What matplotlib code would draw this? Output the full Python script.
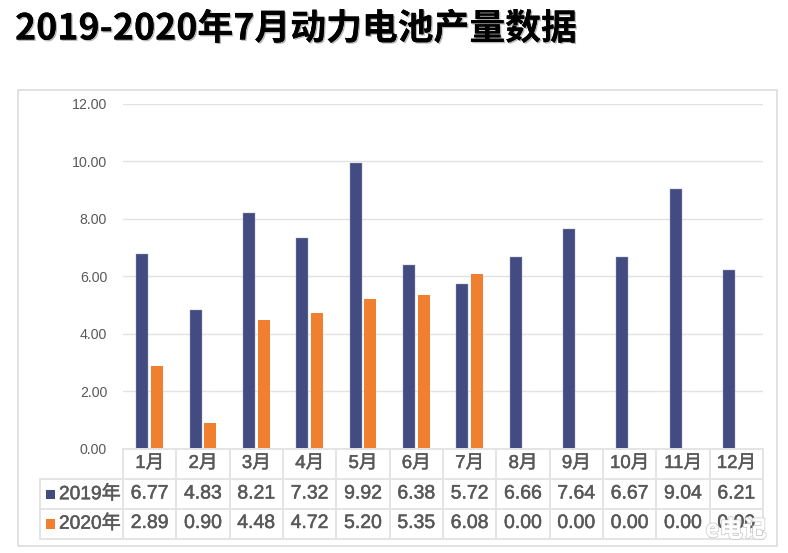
import matplotlib
matplotlib.use('Agg')
import matplotlib.pyplot as plt
import matplotlib.patheffects as pe
from matplotlib.patches import Rectangle
from matplotlib.lines import Line2D

months = ['1月','2月','3月','4月','5月','6月','7月','8月','9月','10月','11月','12月']
series_names = ['2019年','2020年']
values_2019 = [6.77,4.83,8.21,7.32,9.92,6.38,5.72,6.66,7.64,6.67,9.04,6.21]
values_2020 = [2.89,0.90,4.48,4.72,5.20,5.35,6.08,0.00,0.00,0.00,0.00,0.00]
y_ticks = [0,2,4,6,8,10,12]
title = '2019-2020年7月动力电池产量数据'
NAVY='#434C80'; ORANGE='#F07F30'; GRID='#E2E2E2'; TXT='#595959'; TBL='#E4E4E4'
FONT=['Liberation Sans','Noto Sans CJK SC']
W,H=788,553
fig=plt.figure(figsize=(W/100,H/100),dpi=100,facecolor='white')
L,R,T,B=123,763,103.5,449
ax=fig.add_axes([L/W,1-B/H,(R-L)/W,(B-T)/H])
ax.set_xlim(-0.5,11.5); ax.set_ylim(0,12)
ax.set_yticks(y_ticks)
ax.set_yticklabels([f'{v:.2f}' for v in y_ticks],fontsize=10.2,color=TXT,family=FONT)
ax.tick_params(axis='y',length=0,pad=11.5)
ax.set_xticks([])
ax.grid(axis='y',color=GRID,lw=1); ax.set_axisbelow(True)
for s in ax.spines.values(): s.set_visible(False)
x=list(range(12))
bw=0.225; off=0.14
ax.bar([i-off for i in x],values_2019,bw,color=NAVY,edgecolor='#9AA0C0',lw=0.3)
ax.bar([i+off for i in x],values_2020,bw,color=ORANGE,lw=0)

def fx(px): return px/W
def fy(py): return 1-py/H
def hl(x0,x1,y,c=TBL,lw=1.4):
    fig.add_artist(Line2D([fx(x0),fx(x1)],[fy(y),fy(y)],color=c,lw=lw,zorder=3))
def vl(x0,y0,y1,c=TBL,lw=1.4):
    fig.add_artist(Line2D([fx(x0),fx(x0)],[fy(y0),fy(y1)],color=c,lw=lw,zorder=3))
# outer frame
fig.add_artist(Rectangle((fx(17.5),fy(545.5)),(777-17.5)/W,(545.5-89.5)/H,fill=False,ec='#D9D9D9',lw=1.1,zorder=1))
# table
rows=[449,479,509,538.5]
step=(R-L)/12
hl(L,R,rows[0]); hl(40,R,rows[1]); hl(40,R,rows[2]); hl(40,R,rows[3])
for i in range(13): vl(L+i*step,rows[0],rows[3])
vl(40,rows[1],rows[3])
semi=[pe.withStroke(linewidth=0.35,foreground=TXT)]
kw=dict(ha='center',va='center',family=FONT,color=TXT,zorder=4,path_effects=semi)
for i,m in enumerate(months):
    cx=fx(L+(i+.5)*step)
    fig.text(cx,fy(463.5),m,fontsize=13.4,**kw)
    fig.text(cx,fy(494),f'{values_2019[i]:.2f}',fontsize=14,**kw)
    fig.text(cx,fy(523.5),f'{values_2020[i]:.2f}',fontsize=14,**kw)
for yc,name,col in [(494,series_names[0],NAVY),(523.5,series_names[1],ORANGE)]:
    fig.add_artist(Rectangle((fx(46),fy(yc+5)),9/W,9.5/H,fc=col,ec='none',zorder=4))
    fig.text(fx(59),fy(yc),name,fontsize=13.8,ha='left',va='center',family=FONT,color=TXT,zorder=4,path_effects=semi)
# title
fig.text(fx(15),fy(29),title,fontsize=25.8,fontweight='bold',family=['Noto Sans CJK SC'],color='#000000',ha='left',va='center',
         path_effects=[pe.withSimplePatchShadow(offset=(1,-1),shadow_rgbFace='#888888',alpha=0.6),pe.Normal()])
# watermark
fig.text(fx(736),fy(530),'e电记',fontsize=17,fontweight='bold',style='italic',family=['Noto Sans CJK SC'],color='white',alpha=0.85,ha='center',va='center',zorder=6,
         path_effects=[pe.withStroke(linewidth=1.2,foreground='#BDBDBD',alpha=0.8),pe.Normal()])
fig.savefig('out.png',dpi=100)
